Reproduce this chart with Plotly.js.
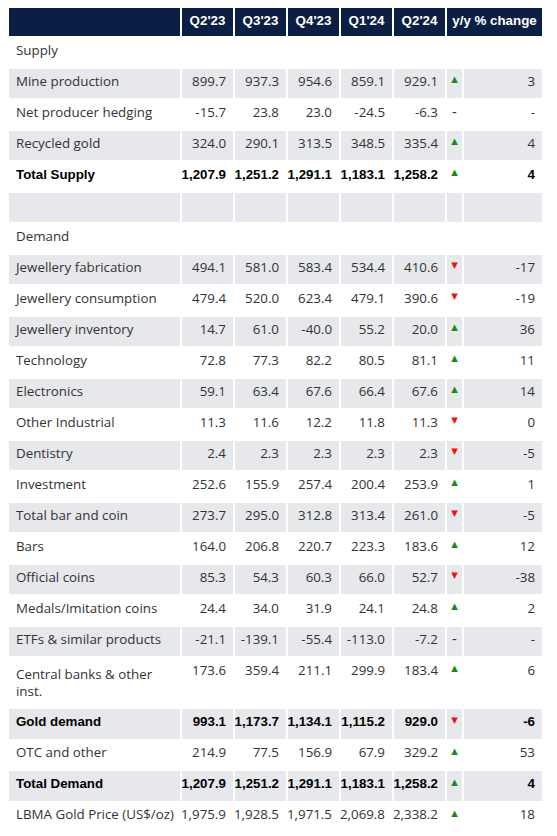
<!DOCTYPE html>
<html>
<head>
<meta charset="utf-8">
<script src="https://cdn.plot.ly/plotly-3.0.1.min.js"></script>
<style>html,body{margin:0;padding:0;background:#fff;}</style>
</head>
<body>
<div id="chart" style="width:557px;height:836px;"></div>
<script>
const headers = ["", "Q2'23", "Q3'23", "Q4'23", "Q1'24", "Q2'24", "y/y % change"];
const labels = ["Supply","Mine production","Net producer hedging","Recycled gold","Total Supply","","Demand",
  "Jewellery fabrication","Jewellery consumption","Jewellery inventory","Technology","Electronics",
  "Other Industrial","Dentistry","Investment","Total bar and coin","Bars","Official coins",
  "Medals/Imitation coins","ETFs & similar products","Central banks & other<br>inst.","Gold demand",
  "OTC and other","Total Demand","LBMA Gold Price (US$/oz)"];
const q2_23 = [null,899.7,-15.7,324.0,1207.9,null,null,494.1,479.4,14.7,72.8,59.1,11.3,2.4,252.6,273.7,164.0,85.3,24.4,-21.1,173.6,993.1,214.9,1207.9,1975.9];
const q3_23 = [null,937.3,23.8,290.1,1251.2,null,null,581.0,520.0,61.0,77.3,63.4,11.6,2.3,155.9,295.0,206.8,54.3,34.0,-139.1,359.4,1173.7,77.5,1251.2,1928.5];
const q4_23 = [null,954.6,23.0,313.5,1291.1,null,null,583.4,623.4,-40.0,82.2,67.6,12.2,2.3,257.4,312.8,220.7,60.3,31.9,-55.4,211.1,1134.1,156.9,1291.1,1971.5];
const q1_24 = [null,859.1,-24.5,348.5,1183.1,null,null,534.4,479.1,55.2,80.5,66.4,11.8,2.3,200.4,313.4,223.3,66.0,24.1,-113.0,299.9,1115.2,67.9,1183.1,2069.8];
const q2_24 = [null,929.1,-6.3,335.4,1258.2,null,null,410.6,390.6,20.0,81.1,67.6,11.3,2.3,253.9,261.0,183.6,52.7,24.8,-7.2,183.4,929.0,329.2,1258.2,2338.2];
const yoy   = [null,3,null,4,4,null,null,-17,-19,36,11,14,0,-5,1,-5,12,-38,2,null,6,-6,53,4,18];
const boldRows = ["Total Supply","Gold demand","Total Demand"];
const sectionRows = ["Supply","","Demand"];

const isBold = labels.map(l => boldRows.includes(l));
const isSection = labels.map(l => sectionRows.includes(l));

function fmt(v){ return v.toLocaleString('en-US',{minimumFractionDigits:1,maximumFractionDigits:1}); }
const NB = '\u00A0';
// single-line labels: non-breaking spaces (no re-wrapping); an "&" goes into the suffix so it stays plain text
const labelCol = [], labelSuffix = [];
labels.forEach(l => {
  if (l.indexOf('<br>') >= 0) { labelCol.push(l); labelSuffix.push(''); return; }
  const s = l.replace(/ /g, NB);
  const k = s.indexOf('&');
  if (k >= 0) { labelCol.push(s.slice(0, k).replace(/\u00A0$/, '')); labelSuffix.push(NB + s.slice(k)); }
  else { labelCol.push(s); labelSuffix.push(''); }
});

const numCols = [q2_23,q3_23,q4_23,q1_24,q2_24].map(col =>
  col.map((v,i) => isSection[i] ? '' : (v===null ? '-' : fmt(v))));
const arrowCol = yoy.map((v,i) => isSection[i] ? '' : (v===null ? '-' : (v>0 ? '▲' : '▼')));
const yoyCol = yoy.map((v,i) => isSection[i] ? '' : (v===null ? '-' : String(v)));

const cols = [labelCol, ...numCols, arrowCol, yoyCol];
const GRAY = '#e6e8ec';
const NAVY = '#0b1f45';
const rowFill = labels.map((l,i) => i%2===1 ? GRAY : '#ffffff');
const fillCols = cols.map(() => rowFill);

const FS = 13.33;
const NORMAL = 'Open Sans, sans-serif';
const BOLDF = 'Liberation Sans, Arial, sans-serif';
const famCol = labels.map((l,i) => isBold[i] ? BOLDF : NORMAL);
const weightCol = labels.map((l,i) => isBold[i] ? 'bold' : 'normal');
const colorCol = labels.map((l,i) => isBold[i] ? '#000000' : '#333333');
const arrowColor = yoy.map(v => v===null ? '#333333' : (v>0 ? '#1a8a1a' : '#ee1111'));
const fontFamily = cols.map((c,j) => j===6 ? yoy.map(()=> 'DejaVu Sans, sans-serif') : famCol);
const fontColor = cols.map((c,j) => j===6 ? arrowColor : colorCol);
const fontSize = cols.map((c,j) => j===6 ? yoy.map(v => v===null ? FS : 8.5) : labels.map(()=>FS));
const fontWeight = cols.map((c,j) => j===6 ? yoy.map(()=> 'normal') : weightCol);
const suffixCols = cols.map((c,j) => j===0 ? labelSuffix : labels.map(()=>''));

const PLOT_H = 836 - 7;
const HEAD_H = 30;

const body = {
  type: 'table',
  domain: {x: [0,1], y: [0,1]},
  columnwidth: [173,53,53,53,53,53,17,80],
  header: {
    values: cols.map(() => ['']),
    fill: {color: NAVY},
    line: {color: '#ffffff', width: 1.5},
    font: {family: BOLDF, size: FS, color: '#ffffff'},
    height: HEAD_H
  },
  cells: {
    values: cols,
    suffix: suffixCols,
    fill: {color: fillCols},
    line: {color: '#ffffff', width: 1.5},
    font: {family: fontFamily, size: fontSize, color: fontColor, weight: fontWeight},
    align: ['left','right','right','right','right','right','center','right'],
    height: 31
  }
};

const head = {
  type: 'table',
  domain: {x: [0,1], y: [1 - HEAD_H/PLOT_H, 1]},
  columnwidth: [173,53,53,53,53,53,97],
  header: {
    values: headers.map(h => [h.replace(/ /g, NB)]),
    fill: {color: NAVY},
    line: {color: '#ffffff', width: 1.5},
    font: {family: BOLDF, size: FS, color: '#ffffff', weight: 'bold'},
    align: 'center',
    height: HEAD_H
  },
  cells: {values: []}
};

const layout = {
  width: 557, height: 836,
  margin: {l: 8, r: 14, t: 7, b: 0},
  paper_bgcolor: '#ffffff'
};
Plotly.newPlot('chart', [body, head], layout, {displayModeBar: false, staticPlot: true});
</script>
</body>
</html>
